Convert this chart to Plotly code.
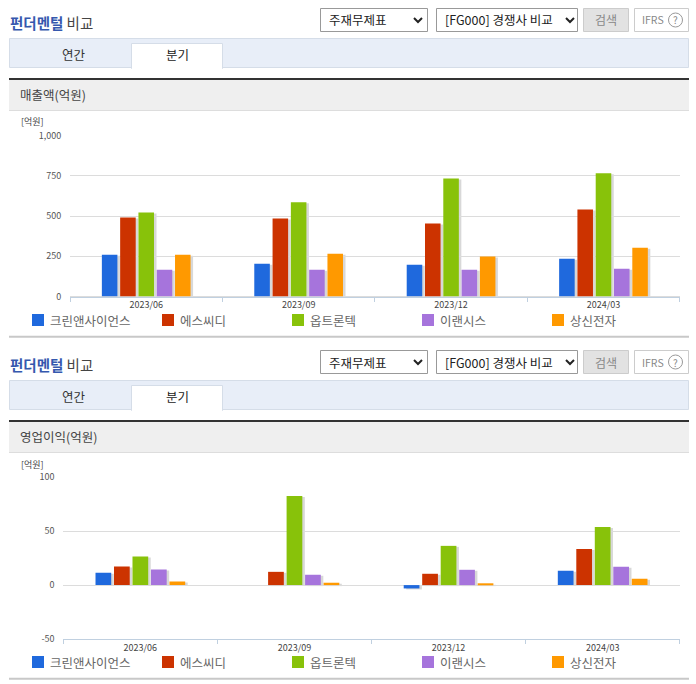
import plotly.graph_objects as go

W = 696
H = 684
FONT = "Noto Sans CJK KR"

periods = ['2023/06', '2023/09', '2023/12', '2024/03']
companies = ['크린앤사이언스', '에스씨디', '옵트론텍', '이랜시스', '상신전자']
colors = ['#1f69dd', '#cc3300', '#88c20a', '#a674dc', '#ff9900']
legend_x = [32, 162, 292, 422, 552]

# 매출액(억원)
sales_a = [260, 204, 197, 235]
sales_b = [490, 484, 453, 540]
sales_c = [522, 586, 733, 765]
sales_d = [166, 166, 166, 172]
sales_e = [260, 266, 249, 303]
sales = [sales_a, sales_b, sales_c, sales_d, sales_e]

# 영업이익(억원)
profit_a = [11.4, None, -3.1, 13.3]
profit_b = [17.3, 12.3, 10.5, 33.6]
profit_c = [26.5, 82.7, 36.4, 54]
profit_d = [14.5, 9.6, 14.2, 17]
profit_e = [3.4, 2.2, 1.2, 5.9]
profit = [profit_a, profit_b, profit_c, profit_d, profit_e]

sales_ticks = [0, 250, 500, 750, 1000]
sales_labels = ['0', '250', '500', '750', '1,000']
profit_ticks = [-50, 0, 50, 100]
profit_labels = ['-50', '0', '50', '100']


def px_x(v):
    return v / W


def px_y(v):
    return 1 - v / H


fig = go.Figure()
shapes = []
notes = []


def box(x0, y0, x1, y1, fill=None, line=None, width=1, layer='below'):
    shapes.append(dict(type='rect', xref='paper', yref='paper', layer=layer,
                       x0=px_x(x0), x1=px_x(x1), y0=px_y(y1), y1=px_y(y0),
                       fillcolor=fill or 'rgba(0,0,0,0)',
                       line=dict(color=line or 'rgba(0,0,0,0)', width=width if line else 0)))


def label(x, y, text, size=12, color='#444444', anchor='left'):
    notes.append(dict(text=text, xref='paper', yref='paper', x=px_x(x), y=px_y(y),
                      xanchor=anchor, yanchor='middle', showarrow=False, borderpad=0,
                      font=dict(family=FONT, size=size, color=color)))


def chevron(x, y):
    shapes.append(dict(type='path', xref='paper', yref='paper',
                       path=f'M {px_x(x-4)} {px_y(y-2)} L {px_x(x)} {px_y(y+2)} L {px_x(x+4)} {px_y(y-2)}',
                       line=dict(color='#222222', width=2)))


# page furniture around one chart, dy moves it down for the second panel
def panel(dy, heading, bottom, legend_y):
    label(9, 22 + dy, '<b><span style="color:#3558ae">펀더멘털</span></b> 비교', size=14.5, color='#444444')
    box(320.5, 8.5 + dy, 427.5, 31.5 + dy, fill='white', line='#999999')
    label(328, 20 + dy, '주재무제표', size=12.5, color='#222222')
    chevron(418, 20 + dy)
    box(436.5, 8.5 + dy, 577.5, 31.5 + dy, fill='white', line='#999999')
    label(444, 20 + dy, '[FG000] 경쟁사 비교', size=12.5, color='#222222')
    chevron(570, 20 + dy)
    box(583.5, 8.5 + dy, 628.5, 31.5 + dy, fill='#e2e2e2', line='#cccccc')
    label(606, 20 + dy, '검색', size=12, color='#888888', anchor='center')
    box(634.5, 8.5 + dy, 688.5, 31.5 + dy, fill='white', line='#cccccc')
    label(641, 20 + dy, 'IFRS', size=10.5, color='#888888')
    shapes.append(dict(type='circle', xref='paper', yref='paper',
                       x0=px_x(668.5), x1=px_x(682.5), y0=px_y(27 + dy), y1=px_y(13 + dy),
                       line=dict(color='#999999', width=1)))
    label(675.5, 20 + dy, '?', size=10, color='#888888', anchor='center')

    box(9.5, 38.5 + dy, 688.5, 67.5 + dy, fill='#e8eef8', line='#d5dde8')
    box(131.5, 43.5 + dy, 222.5, 68.5 + dy, fill='white', line='#d5dde8')
    box(132, 66 + dy, 222, 69 + dy, fill='white')
    label(74, 54 + dy, '연간', size=12.5, color='#333333', anchor='center')
    label(177, 55 + dy, '분기', size=12.5, color='#222222', anchor='center')

    box(9, 78 + dy, 689, 80 + dy, fill='#333333')
    box(9, 80 + dy, 689, 110 + dy, fill='#efefef')
    box(9, 110 + dy, 689, 111 + dy, fill='#dddddd')
    label(19, 95 + dy, heading, size=12.5, color='#444444')
    label(20, 122 + dy, '[억원]', size=9, color='#444444')

    for name, color, lx in zip(companies, colors, legend_x):
        box(lx, legend_y, lx + 12, legend_y + 12, fill=color)
        label(lx + 17, legend_y + 6, name, size=12.5, color='#666666')
    box(9, bottom - 1, 689, bottom + 1, fill='#c8c8c8')


panel(0, '매출액(억원)', 336.7, 314)
panel(342, '영업이익(억원)', 678.7, 656)

# shadow subplots come first so the real bars draw over them
for s, row in enumerate([sales, profit]):
    for values, name, color in zip(row, companies, colors):
        fig.add_trace(go.Bar(x=periods, y=values, name=name, showlegend=False, hoverinfo='skip',
                             marker=dict(color='rgba(60,60,60,0.2)', line_width=0),
                             xaxis=f'x{s + 1}' if s else 'x', yaxis=f'y{s + 1}' if s else 'y'))
    for values, name, color in zip(row, companies, colors):
        fig.add_trace(go.Bar(x=periods, y=values, name=name, showlegend=False,
                             marker=dict(color=color, line_width=0),
                             xaxis=f'x{s + 3}', yaxis=f'y{s + 3}'))


def x_axis(x0, x1, anchor, visible):
    return dict(domain=[px_x(x0), px_x(x1)], anchor=anchor, type='category', visible=visible,
                automargin=False, categoryorder='array', categoryarray=periods, tickson='boundaries',
                ticks='outside', ticklen=4, tickcolor='#c0d0e0', showline=True, linecolor='#c0d0e0',
                showgrid=False, tickfont=dict(family=FONT, size=9, color='#444444'))


def y_axis(top, bottom, rng, anchor, visible, ticks, labels):
    return dict(domain=[px_y(bottom), px_y(top)], range=rng, anchor=anchor, visible=visible,
                automargin=False, tickmode='array', tickvals=ticks, ticktext=labels,
                showgrid=True, gridcolor='#dcdcdc', gridwidth=1, zeroline=True,
                zerolinecolor='#dcdcdc', zerolinewidth=1, showline=False,
                ticks='outside', ticklen=6, tickcolor='rgba(0,0,0,0)',
                tickfont=dict(family=FONT, size=9, color='#555555'))


fig.update_layout(
    width=W, height=H, margin=dict(l=0, r=0, t=0, b=0),
    paper_bgcolor='white', plot_bgcolor='rgba(0,0,0,0)',
    barmode='group', bargap=0.4, bargroupgap=0.15, showlegend=False,
    shapes=shapes, annotations=notes,
    xaxis=x_axis(72.5, 682.2, 'y', False),
    yaxis=y_axis(136.5, 297.5, [0, 1000], 'x', False, sales_ticks, sales_labels),
    xaxis2=x_axis(65.8, 682.2, 'y2', False),
    yaxis2=y_axis(478.3, 640, [-50, 100], 'x2', False, profit_ticks, profit_labels),
    xaxis3=x_axis(70, 679.7, 'y3', True),
    yaxis3=y_axis(135.5, 296.5, [0, 1000], 'x3', True, sales_ticks, sales_labels),
    xaxis4=x_axis(63.3, 679.7, 'y4', True),
    yaxis4=y_axis(477.3, 639, [-50, 100], 'x4', True, profit_ticks, profit_labels),
)

fig.write_html("out.html", config=dict(displayModeBar=False), post_script="document.body.style.margin='0';")
